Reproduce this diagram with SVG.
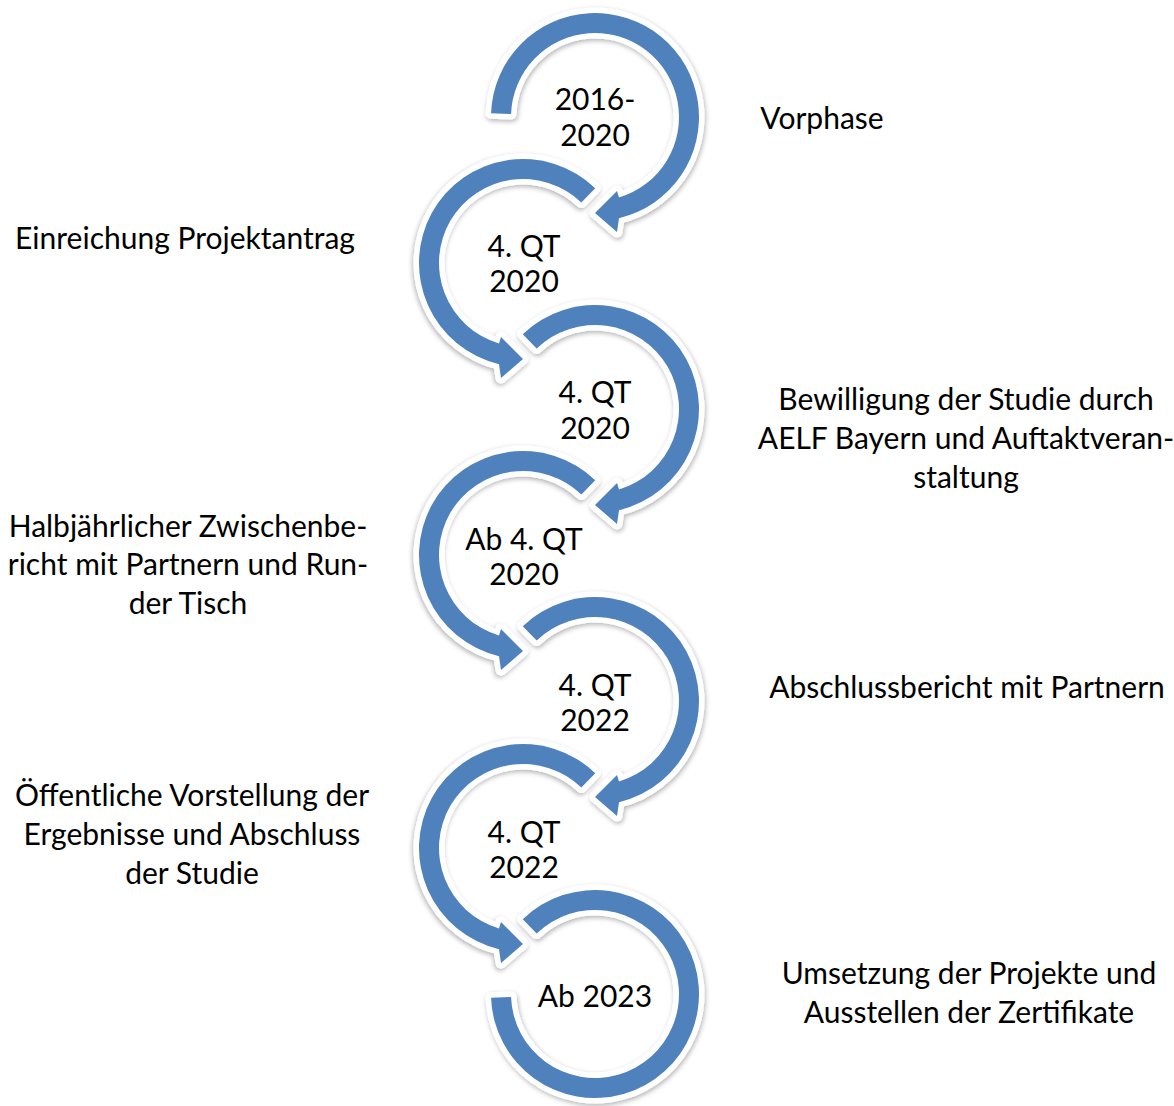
<svg xmlns="http://www.w3.org/2000/svg" xmlns:xlink="http://www.w3.org/1999/xlink" width="1174" height="1106" viewBox="0 0 1174 1106">
  <style>
    .halo { fill: #ffffff; stroke: #ffffff; stroke-width: 11; stroke-linejoin: round; filter: url(#soft); }
    .band { fill: #4f81bd; stroke: none; }
    text { font-family: "Lato", "Liberation Sans", sans-serif; font-size: 30px; fill: #000000; text-anchor: middle; }
  </style>
  <defs>
    <filter id="soft" x="-20%" y="-20%" width="140%" height="140%">
      <feDropShadow dx="1" dy="2" stdDeviation="2.5" flood-color="#000000" flood-opacity="0.3"/>
    </filter>
    <!-- ring shapes, centred on the origin: outer r 104, inner r 84 -->
    <!-- first step: starts at the left, arrowhead at the bottom pointing left -->
    <path id="ring-first" d="M -103.94 -3.63 A 104 104 0 1 1 24 101.19 L 22 115 L 0 96 L 22 74 L 24 80.5 A 84 84 0 1 0 -83.95 -2.93 Z"/>
    <!-- middle steps: starts upper left, arrowhead at the bottom pointing left -->
    <path id="ring-mid" d="M -72.25 -74.81 A 104 104 0 1 1 24 101.19 L 22 115 L 0 96 L 22 74 L 24 80.5 A 84 84 0 1 0 -58.35 -60.42 Z"/>
    <!-- last step: starts upper left, ends flat at the left -->
    <path id="ring-last" d="M -72.25 -74.81 A 104 104 0 1 1 -103.94 3.63 L -83.95 2.93 A 84 84 0 1 0 -58.35 -60.42 Z"/>
  </defs>

  <g id="step-1">
    <g transform="translate(595,117)">
      <use href="#ring-first" class="halo"/>
      <use href="#ring-first" class="band"/>
    </g>
    <text x="595" y="110">2016-</text>
    <text x="595" y="146">2020</text>
    <text x="822" y="129">Vorphase</text>
  </g>

  <g id="step-2">
    <g transform="translate(523,263) scale(-1,1)">
      <use href="#ring-mid" class="halo"/>
      <use href="#ring-mid" class="band"/>
    </g>
    <text x="524" y="257">4. QT</text>
    <text x="524" y="292">2020</text>
    <text x="185" y="249">Einreichung Projektantrag</text>
  </g>

  <g id="step-3">
    <g transform="translate(595,409)">
      <use href="#ring-mid" class="halo"/>
      <use href="#ring-mid" class="band"/>
    </g>
    <text x="595" y="403">4. QT</text>
    <text x="595" y="439">2020</text>
    <text x="966" y="410">Bewilligung der Studie durch</text>
    <text x="966" y="449">AELF Bayern und Auftaktveran-</text>
    <text x="966" y="488">staltung</text>
  </g>

  <g id="step-4">
    <g transform="translate(523,555) scale(-1,1)">
      <use href="#ring-mid" class="halo"/>
      <use href="#ring-mid" class="band"/>
    </g>
    <text x="524" y="550">Ab 4. QT</text>
    <text x="524" y="585">2020</text>
    <text x="188" y="537">Halbjährlicher Zwischenbe-</text>
    <text x="188" y="575">richt mit Partnern und Run-</text>
    <text x="188" y="614">der Tisch</text>
  </g>

  <g id="step-5">
    <g transform="translate(595,701)">
      <use href="#ring-mid" class="halo"/>
      <use href="#ring-mid" class="band"/>
    </g>
    <text x="595" y="696">4. QT</text>
    <text x="595" y="731">2022</text>
    <text x="967" y="698">Abschlussbericht mit Partnern</text>
  </g>

  <g id="step-6">
    <g transform="translate(523,848) scale(-1,1)">
      <use href="#ring-mid" class="halo"/>
      <use href="#ring-mid" class="band"/>
    </g>
    <text x="524" y="843">4. QT</text>
    <text x="524" y="878">2022</text>
    <text x="192" y="806">Öffentliche Vorstellung der</text>
    <text x="192" y="845">Ergebnisse und Abschluss</text>
    <text x="192" y="884">der Studie</text>
  </g>

  <g id="step-7">
    <g transform="translate(595,994)">
      <use href="#ring-last" class="halo"/>
      <use href="#ring-last" class="band"/>
    </g>
    <text x="595" y="1007">Ab 2023</text>
    <text x="969" y="984">Umsetzung der Projekte und</text>
    <text x="969" y="1023">Ausstellen der Zertifikate</text>
  </g>
</svg>
